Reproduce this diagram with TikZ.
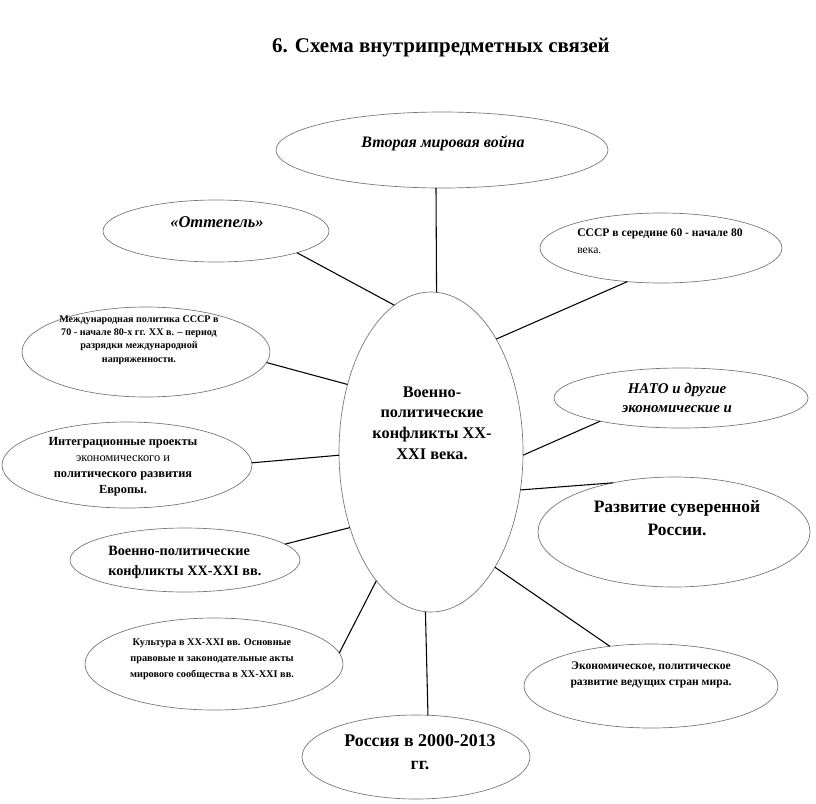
\documentclass[tikz,border=0pt]{standalone}
\usepackage{fontspec}
\setmainfont{Liberation Serif}
\usepackage{tikz}
\usetikzlibrary{shapes.geometric}
\tikzset{topic/.style={ellipse,draw=black!55,line width=0.5pt,inner sep=0pt,outer sep=0pt},
 link/.style={draw,line width=0.8pt},
 txt/.style={align=center,inner sep=0pt},
 tiny/.style={font=\fontsize{7.6}{10}\selectfont\bfseries},
 }

\begin{document}
\begin{tikzpicture}[x=0.75pt,y=-0.75pt]
        \useasboundingbox (0,0) rectangle (816,803);
        \node[txt,font=\fontsize{15.7}{18}\selectfont\bfseries] (title) at (441,48) {6. Схема внутрипредметных связей};
        % ellipses
        \node[topic,minimum width=138pt,minimum height=240pt] (hub) at (431,452) {};
        \node[topic,minimum width=249pt,minimum height=57pt] (war) at (442,150) {};
        \node[topic,minimum width=169.5pt,minimum height=46.5pt] (thaw) at (216,231) {};
        \node[topic,minimum width=181.5pt,minimum height=52.5pt] (ussr) at (661,248) {};
        \node[topic,minimum width=186pt,minimum height=67.5pt] (detente) at (146,352) {};
        \node[topic,minimum width=190.5pt,minimum height=45pt] (nato) at (681,398) {};
        \node[topic,minimum width=187.5pt,minimum height=64.5pt] (europe) at (127,465) {};
        \node[topic,minimum width=204pt,minimum height=82.5pt] (sovereign) at (674,532) {};
        \node[topic,minimum width=172.5pt,minimum height=48pt] (conflicts) at (185,560) {};
        \node[topic,minimum width=193.5pt,minimum height=69pt] (culture) at (214,664) {};
        \node[topic,minimum width=190.5pt,minimum height=63pt] (economy) at (651,686) {};
        \node[topic,minimum width=171pt,minimum height=63pt] (ru2000) at (416,757) {};
        % texts
        \node[txt,font=\fontsize{12.2}{15.5}\selectfont\bfseries] (hubT) at (432,423) {Военно-\\политические\\конфликты XX-\\XXI века.};
        \node[txt,font=\fontsize{12}{14}\selectfont\bfseries\itshape] (warT) at (443,143) {Вторая мировая война};
        \node[txt,font=\fontsize{12.4}{14}\selectfont\bfseries\itshape] (thawT) at (217,222) {«Оттепель»};
        \node[txt,font=\fontsize{8.7}{13}\selectfont\bfseries,align=left,anchor=west] (ussrT) at (577,241) {СССР в середине 60 - начале 80\\{\mdseries века.}};
        \node[txt,tiny] (detenteT) at (139,340) {Международная политика СССР в\\70 - начале 80-х гг. XX в. – период\\разрядки международной\\напряженности.};
        \node[txt,font=\fontsize{11.2}{14}\selectfont\bfseries\itshape] (natoT) at (677,398) {НАТО и другие\\экономические и};
        \node[txt,font=\fontsize{9.3}{12}\selectfont\bfseries] (europeT) at (123,467) {Интеграционные проекты\\{\mdseries экономического и}\\политического развития\\Европы.};
        \node[txt,font=\fontsize{13.1}{17}\selectfont\bfseries] (sovereignT) at (677,518) {Развитие суверенной\\России.};
        \node[txt,font=\fontsize{10.7}{15}\selectfont\bfseries,align=left,anchor=west] (conflictsT) at (108,562) {Военно-политические\\конфликты XX-XXI вв.};
        \node[txt,font=\fontsize{7.7}{12}\selectfont\bfseries] (cultureT) at (212,659) {Культура в XX-XXI вв. Основные\\правовые и законодательные акты\\мирового сообщества в XX-XXI вв.};
        \node[txt,font=\fontsize{8.7}{11.5}\selectfont\bfseries] (economyT) at (651,675) {Экономическое, политическое\\развитие ведущих стран мира.};
        \node[txt,font=\fontsize{13.4}{17}\selectfont\bfseries] (ru2000T) at (420,752) {Россия в 2000-2013\\гг.};
        % connectors
        \foreach \a/\b in {88/war.261, 104/thaw.345, 60/ussr.225, 141/detente.355,
            358/nato.196, 182/europe.1, 337/sovereign.141, 223/conflicts.9,
            247/culture.5, 299/economy.136, 268/ru2000.74} {
            \draw[link] (hub.\a) -- (\b);
        }
    \end{tikzpicture}
\end{document}
